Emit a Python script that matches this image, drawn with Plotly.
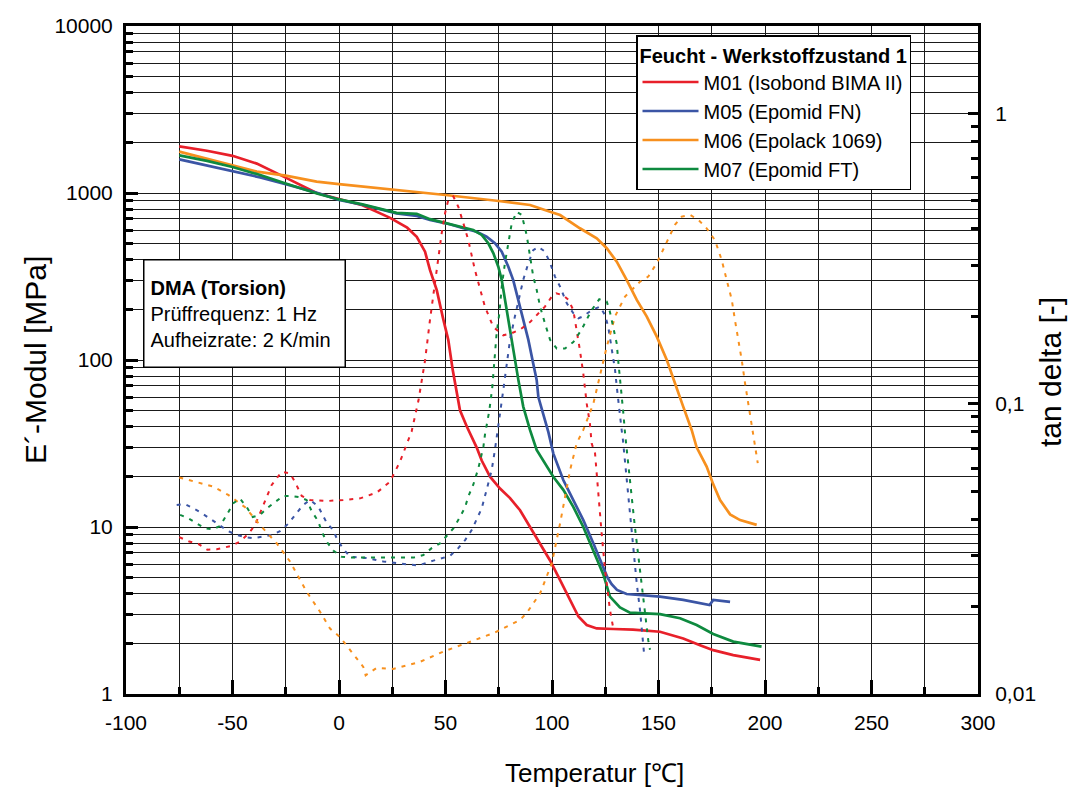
import plotly.graph_objects as go

# ---------------- data ----------------
# Storage modulus E' [MPa] (solid lines)
m01_T = [-75, -62, -50, -38.6, -26, -10.5, 0, 11, 24, 32, 36.5, 40.4, 42.7, 45.9, 49, 51.3, 53.4, 55.2, 56.8, 60,
         64.6, 67, 70.9, 75.6, 80.3, 85, 89.7, 94.4, 99.1, 103.8, 108.5, 112.4, 116.3, 121, 128.8, 138, 150.7,
         161.6, 169.5, 175.7, 185.1, 197.7]
m01_E = [1900, 1790, 1670, 1500, 1253, 1000, 920, 845, 710, 620, 547, 445, 346, 262, 174, 132, 87, 63, 50, 40,
         30, 25, 20, 17, 14.9, 12.6, 10, 8.0, 6.3, 4.8, 3.66, 2.91, 2.59, 2.47, 2.45, 2.43, 2.36,
         2.15, 1.96, 1.83, 1.71, 1.60]

m05_T = [-75, -62, -50, -37, -25, -10, 0, 11, 27, 36.5, 42.7, 52, 58.4, 64.6, 69.3, 73.2, 76.4, 79.5, 81.8, 84.2,
         86.5, 88.9, 91.2, 92.8, 93.6, 95.9, 98.3, 100.6, 105.3, 110, 114.7, 119.4, 124, 126, 128, 130.5, 135,
         150.7, 161.6, 174, 175.7, 183.6]
m05_E = [1590, 1460, 1345, 1240, 1130, 1000, 910, 850, 755, 728, 690, 650, 615, 586, 547, 500, 445, 362, 301, 229,
         174, 132, 95, 76, 60, 48, 37, 27.6, 19.1, 14.5, 11, 8.0, 5.8, 5.0, 4.55, 4.2, 3.97,
         3.83, 3.66, 3.41, 3.66, 3.56]

m06_T = [-75, -62, -50, -38.6, -25, -10.5, 0, 25, 50, 74, 89.7, 99.1, 103.8, 113.1, 121, 125.7, 130.4, 135.1,
         139.8, 144.5, 149.2, 153.9, 157.7, 161.6, 165.6, 167.9, 172.6, 175.7, 178.9, 183.6, 188.3, 196.1]
m06_E = [1770, 1600, 1456, 1343, 1270, 1170, 1130, 1051, 973, 899, 848, 773, 738, 615, 535, 467, 388, 301,
         229, 182, 138, 100, 72, 52.6, 38, 30, 23, 18, 14.5, 11.9, 11, 10.3]

m07_T = [-75, -62, -50, -37, -25, -10, 0, 11, 27, 36.5, 42.7, 52, 58.4, 63, 67, 70.1, 72.5, 74.8, 76.4, 77.9,
         79.5, 81.1, 82.6, 84.2, 86.5, 89.7, 92.8, 97.5, 100.6, 105.3, 110, 114.7, 119.4, 124.1, 127.2, 131.9,
         136.6, 150.7, 160.1, 167.9, 175.7, 185.1, 198.4]
m07_E = [1680, 1556, 1430, 1282, 1140, 990, 915, 855, 760, 750, 697, 650, 620, 600, 561, 500, 435, 362, 301, 229,
         174, 132, 100, 76, 52.6, 38, 28.9, 23, 20, 16.7, 13.2, 10, 7.3, 5.2, 3.83, 3.3,
         3.07, 3.01, 2.84, 2.59, 2.29, 2.06, 1.92]

# Loss factor tan delta [-] (dotted lines, right axis)
m01_tT = [-75, -70.3, -66.1, -61.8, -57.4, -50.4, -46.5, -42.6, -39.4, -35.5, -31.6, -26.9, -23, -20.7, -17.5,
          -13.6, -5.8, 2, 9.9, 17.7, 23.9, 28.6, 32.5, 34.1, 37.3, 40.4, 42.7, 45.9, 48.2, 49.8, 51.3, 53.7, 56,
          58.4, 60.7, 63.8, 66.2, 68.5, 72.4, 77.1, 81.1, 85, 89.7, 93.6, 96.7, 99.9, 102, 105.3, 107.7, 110,
          111.6, 113.1, 114.7, 116.3, 117.8, 118.6, 120.2, 121.8, 123.3, 124.9, 127.2, 128.8]
m01_tan = [0.0347, 0.0335, 0.0329, 0.0314, 0.0315, 0.0324, 0.0335, 0.0356, 0.0382, 0.0448, 0.0525, 0.0583, 0.0575,
           0.0538, 0.0481, 0.0466, 0.0462, 0.0466, 0.0472, 0.0494, 0.0538, 0.0631, 0.074, 0.0802, 0.1025, 0.141,
           0.194, 0.296, 0.386, 0.453, 0.503, 0.517, 0.477, 0.418, 0.366, 0.289, 0.247, 0.216, 0.184, 0.172,
           0.175, 0.18, 0.191, 0.205, 0.216, 0.234, 0.24, 0.236, 0.228, 0.21, 0.18, 0.153, 0.127, 0.1, 0.0855,
           0.073, 0.0675, 0.0479, 0.0358, 0.0268, 0.0195, 0.0168]

m05_tT = [-76.2, -72.3, -68.4, -64.5, -60.2, -55.9, -52, -48, -44.1, -40.2, -35.5, -31.6, -27.7, -23.8, -19.9,
          -16.8, -13.6, -9.7, -5.8, -2.7, -1.1, 1.7, 5.2, 13, 20.8, 28.6, 37.2, 44.3, 52.1, 56, 59.2, 62.3, 64.6,
          67, 69.3, 71.7, 73.2, 74, 74.8, 75.6, 77.1, 78.7, 80.3, 82.6, 85, 86.5, 88.9, 91.2, 93.6, 96.7, 99.1,
          101.4, 103.8, 106.9, 110, 112.4, 114.7, 118.6, 122.5, 124.9, 126.4, 127.2, 128, 128.8, 129.6, 130.4,
          131.2, 131.9, 132.7, 133.3, 134.3, 135.8, 137.4, 138.6, 139.8, 141.3, 142.6, 143.3]
m05_tan = [0.0448, 0.0451, 0.0436, 0.042, 0.04, 0.0382, 0.0364, 0.0353, 0.0347, 0.0344, 0.035, 0.0353, 0.0364,
           0.0386, 0.042, 0.0448, 0.0466, 0.0442, 0.0389, 0.0367, 0.0344, 0.0318, 0.0297, 0.0294, 0.0286, 0.0281,
           0.0277, 0.0288, 0.0299, 0.0318, 0.0339, 0.0367, 0.0397, 0.0436, 0.0505, 0.0591, 0.0693, 0.0773,
           0.0834, 0.0927, 0.111, 0.134, 0.166, 0.2, 0.24, 0.267, 0.305, 0.338, 0.347, 0.334, 0.305, 0.274,
           0.253, 0.222, 0.205, 0.197, 0.2, 0.21, 0.216, 0.202, 0.184, 0.17, 0.157, 0.145, 0.1306, 0.1146, 0.1,
           0.0927, 0.0812, 0.075, 0.0624, 0.0479, 0.0367, 0.0297, 0.024, 0.0195, 0.0157, 0.0136]

m06_tT = [-75, -66.8, -59, -52, -44.1, -37.1, -29.2, -23, -15.2, -8.9, -4.2, 0.5, 9.9, 11.4, 12.5, 17.7, 25.5,
          38, 49, 61.5, 72.5, 85, 88.1, 94.4, 99.9, 103.8, 108.5, 111.6, 114.7, 119.4, 123.3, 125.7, 129.6,
          134.3, 141.3, 145.2, 149.2, 153.1, 155.4, 157.7, 160.9, 164.8, 168.7, 172.6, 176.5, 179.7, 182, 184.4,
          185.9, 187.5, 189.1, 190.6, 192.2, 193.8, 195.3, 196.6]
m06_tan = [0.0557, 0.0538, 0.0518, 0.0485, 0.044, 0.0382, 0.033, 0.0286, 0.0225, 0.0192, 0.0168, 0.0157, 0.0128,
           0.0124, 0.0116, 0.0123, 0.0122, 0.0129, 0.014, 0.0151, 0.0162, 0.018, 0.019, 0.0222, 0.0282, 0.0387,
           0.0591, 0.0731, 0.0812, 0.1, 0.1306, 0.157, 0.2, 0.234, 0.263, 0.274, 0.305, 0.352, 0.381, 0.413,
           0.441, 0.447, 0.43, 0.402, 0.366, 0.312, 0.267, 0.228, 0.194, 0.166, 0.141, 0.118, 0.1, 0.0855,
           0.073, 0.0624]

m07_tT = [-74.6, -70.8, -66.8, -62.9, -59.3, -55.9, -52.7, -49.6, -46.5, -43.3, -40.5, -37.1, -33.9, -30, -26.2,
          -22.2, -18.3, -15.2, -12.8, -9.7, -8.1, -5.8, -2.7, 1.3, 6.7, 22.3, 34.9, 39.6, 43.5, 47.4, 50.5, 53.7,
          56.8, 59.2, 60.7, 63, 65.4, 67.8, 68.5, 69.3, 70.6, 72, 73.2, 74, 75.3, 76.4, 77.9, 79.5, 81.1, 83.4,
          85.8, 88.1, 89.7, 91.2, 92.8, 94.4, 96.7, 99.1, 102.2, 106.1, 110, 113.9, 116.3, 118.6, 122.2, 125.7,
          127.2, 128.8, 130.4, 131.2, 131.9, 132.7, 133.5, 134.3, 135.8, 137.4, 138.9, 140.5, 142.1, 143.7,
          145.2, 146]
m07_tan = [0.0414, 0.0403, 0.0387, 0.0372, 0.0369, 0.0379, 0.0414, 0.0454, 0.0471, 0.044, 0.0407, 0.0414, 0.0436,
           0.046, 0.0481, 0.0481, 0.0476, 0.0466, 0.0426, 0.0393, 0.0362, 0.0335, 0.0312, 0.0297, 0.0295, 0.0295,
           0.0295, 0.0301, 0.0318, 0.033, 0.035, 0.0372, 0.0407, 0.044, 0.0479, 0.0525, 0.0598, 0.0711, 0.078,
           0.0834, 0.095, 0.1146, 0.145, 0.175, 0.205, 0.253, 0.305, 0.361, 0.418, 0.458, 0.447, 0.381, 0.321,
           0.274, 0.247, 0.216, 0.189, 0.166, 0.155, 0.155, 0.163, 0.18, 0.195, 0.21, 0.229, 0.225, 0.207, 0.184,
           0.161, 0.138, 0.123, 0.109, 0.0927, 0.079, 0.0607, 0.0479, 0.0377, 0.0297, 0.024, 0.0185, 0.0153,
           0.0142]

names = ["M01 (Isobond BIMA II)", "M05 (Epomid FN)", "M06 (Epolack 1069)", "M07 (Epomid FT)"]
colors = ["#E8202A", "#3B55A5", "#F7901E", "#0E8A3F"]

x_ticks = [-100, -50, 0, 50, 100, 150, 200, 250, 300]
x_ticktext = ["-100", "-50", "0", "50", "100", "150", "200", "250", "300"]
y_ticks = [1, 10, 100, 1000, 10000]
y_ticktext = ["1", "10", "100", "1000", "10000"]
y2_ticks = [0.01, 0.1, 1]
y2_ticktext = ["0,01", "0,1", "1"]

FONT = "Liberation Sans, Arial, sans-serif"

fig = go.Figure()

tan_sets = [(m01_tT, m01_tan), (m05_tT, m05_tan), (m06_tT, m06_tan), (m07_tT, m07_tan)]
for (tx, ty), c in zip(tan_sets, colors):
    fig.add_trace(go.Scatter(x=tx, y=ty, mode="lines", yaxis="y2", showlegend=False,
                             line=dict(color=c, width=2, dash="4px,6px")))

e_sets = [(m01_T, m01_E), (m05_T, m05_E), (m06_T, m06_E), (m07_T, m07_E)]
for (ex, ey), c, n in zip(e_sets, colors, names):
    fig.add_trace(go.Scatter(x=ex, y=ey, mode="lines", name=n,
                             line=dict(color=c, width=2.7)))

grid_c = "#1a1a1a"

fig.update_layout(
    width=1071, height=789,
    margin=dict(l=126, r=93, t=26, b=95),
    paper_bgcolor="white", plot_bgcolor="white",
    font=dict(family=FONT, size=21, color="black"),
    xaxis=dict(range=[-100, 300], tickmode="array", tickvals=x_ticks, ticktext=x_ticktext,
               ticks="inside", ticklen=14, tickwidth=2.5, tickcolor="black",
               showline=True, linewidth=3, linecolor="black", mirror=True,
               showgrid=True, gridcolor=grid_c, gridwidth=1, zeroline=False,
               ticklabelstandoff=8, tickfont=dict(size=21),
               minor=dict(dtick=25, tick0=-100, ticks="inside", ticklen=7, tickwidth=2.5,
                          tickcolor="black", showgrid=True, gridcolor=grid_c, gridwidth=1)),
    yaxis=dict(type="log", range=[0, 4], tickmode="array", tickvals=y_ticks, ticktext=y_ticktext,
               ticks="inside", ticklen=12, tickwidth=2.5, tickcolor="black",
               showline=True, linewidth=3, linecolor="black",
               showgrid=True, gridcolor=grid_c, gridwidth=1, zeroline=False,
               tickfont=dict(size=21), ticklabelstandoff=6,
               minor=dict(dtick="D1", ticks="inside", ticklen=7, tickwidth=2.5, tickcolor="black",
                          showgrid=True, gridcolor=grid_c, gridwidth=1)),
    yaxis2=dict(type="log", range=[-2, 0.301], overlaying="y", side="right",
                tickmode="array", tickvals=y2_ticks, ticktext=y2_ticktext,
                ticks="inside", ticklen=10, tickwidth=2.5, tickcolor="black",
                showline=True, linewidth=3, linecolor="black",
                showgrid=False, zeroline=False, tickfont=dict(size=21), ticklabelstandoff=10,
                minor=dict(dtick="D1", ticks="inside", ticklen=7, tickwidth=2.5, tickcolor="black",
                           showgrid=False)),
    legend=dict(x=0.5986, y=0.9865, xanchor="left", yanchor="top",
                bgcolor="white", bordercolor="black", borderwidth=1.5,
                font=dict(family=FONT, size=20), tracegroupgap=0, itemwidth=56,
                title=dict(text="<b>Feucht - Werkstoffzustand 1</b>", font=dict(family=FONT, size=20))),
    annotations=[
        dict(text="<b>DMA (Torsion)</b><br>Prüffrequenz: 1 Hz<br>Aufheizrate: 2 K/min",
             xref="paper", yref="paper", x=0.02, y=0.6512, xanchor="left", yanchor="top",
             align="left", valign="middle", width=188, height=94, showarrow=False,
             font=dict(family=FONT, size=20),
             bgcolor="white", bordercolor="black", borderwidth=1.5, borderpad=6),
        dict(text="E´-Modul [MPa]", textangle=-90, xref="paper", yref="paper",
             x=-0.1068, y=0.5, xanchor="center", yanchor="middle", showarrow=False,
             font=dict(family=FONT, size=30)),
        dict(text="tan delta [-]", textangle=-90, xref="paper", yref="paper",
             x=1.0845, y=0.482, xanchor="center", yanchor="middle", showarrow=False,
             font=dict(family=FONT, size=30)),
        dict(text="Temperatur [℃]", xref="paper", yref="paper",
             x=0.5493, y=-0.118, xanchor="center", yanchor="middle", showarrow=False,
             font=dict(family=FONT, size=26)),
    ],
)

fig.write_html("out.html")
